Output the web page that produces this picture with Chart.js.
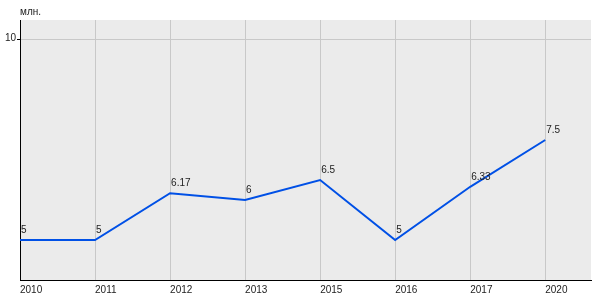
<!DOCTYPE html>
<html lang="ru">
<head>
    <meta charset="UTF-8">
    <title>млн.</title>
    <script src="https://cdn.jsdelivr.net/npm/chart.js"></script>
    <style>
        body { margin: 0; background: #fff; }
        #wrap { width: 600px; height: 300px; }
    </style>
</head>
<body>
    <div id="wrap"><canvas id="chart"></canvas></div>
    <script>
        const years = ['2010', '2011', '2012', '2013', '2015', '2016', '2017', '2020'];
        const values = [5, 5, 6.17, 6, 6.5, 5, 6.33, 7.5];
        const yTicks = [10];
        const unitLabel = 'млн.';

        const FONT = '"Liberation Sans", Arial, sans-serif';

        // grey plot background + unit caption
        const backdrop = {
            id: 'backdrop',
            beforeDraw(chart) {
                const { ctx, chartArea: a } = chart;
                ctx.save();
                ctx.fillStyle = '#ebebeb';
                ctx.fillRect(a.left, a.top, a.right - a.left, a.bottom - a.top);
                ctx.fillStyle = '#222';
                ctx.font = '10px ' + FONT;
                ctx.textBaseline = 'middle';
                ctx.fillText(unitLabel, a.left, 12);
                ctx.restore();
            }
        };

        // value labels above each point
        const valueLabels = {
            id: 'valueLabels',
            afterDatasetsDraw(chart) {
                const { ctx } = chart;
                const meta = chart.getDatasetMeta(0);
                ctx.save();
                ctx.fillStyle = '#222';
                ctx.font = '10px ' + FONT;
                ctx.textBaseline = 'alphabetic';
                meta.data.forEach((pt, i) => {
                    ctx.fillText(String(values[i]), pt.x + 1, pt.y - 7);
                });
                ctx.restore();
            }
        };

        new Chart(document.getElementById('chart'), {
            type: 'line',
            data: {
                datasets: [{
                    data: values.map((v, i) => ({ x: i, y: v })),
                    borderColor: '#0050e6',
                    borderWidth: 2,
                    pointRadius: 0,
                    tension: 0,
                    clip: false
                }]
            },
            options: {
                responsive: true,
                maintainAspectRatio: false,
                animation: false,
                layout: { padding: { top: 20, right: 9, bottom: 0, left: 0 } },
                plugins: { legend: { display: false }, tooltip: { enabled: false } },
                scales: {
                    x: {
                        type: 'linear',
                        min: 0,
                        max: 7.61,
                        afterBuildTicks(scale) {
                            scale.ticks = years.map((y, i) => ({ value: i }));
                        },
                        afterFit(scale) { scale.height = 20; },
                        ticks: {
                            autoSkip: false,
                            maxRotation: 0,
                            align: 'start',
                            padding: 4,
                            color: '#222',
                            font: { family: FONT, size: 10 },
                            callback: (v) => years[v] ?? ''
                        },
                        grid: { color: '#c8c8c8', drawTicks: false },
                        border: { color: '#000', width: 1 }
                    },
                    y: {
                        min: 4,
                        max: 10.5,
                        afterBuildTicks(scale) {
                            scale.ticks = yTicks.map(v => ({ value: v }));
                        },
                        afterFit(scale) { scale.width = 20; },
                        ticks: {
                            padding: 1,
                            labelOffset: -2,
                            color: '#222',
                            font: { family: FONT, size: 10 }
                        },
                        grid: { color: '#c8c8c8', tickColor: '#000', tickLength: 3 },
                        border: { color: '#000', width: 1 }
                    }
                }
            },
            plugins: [backdrop, valueLabels]
        });
    </script>
</body>
</html>
